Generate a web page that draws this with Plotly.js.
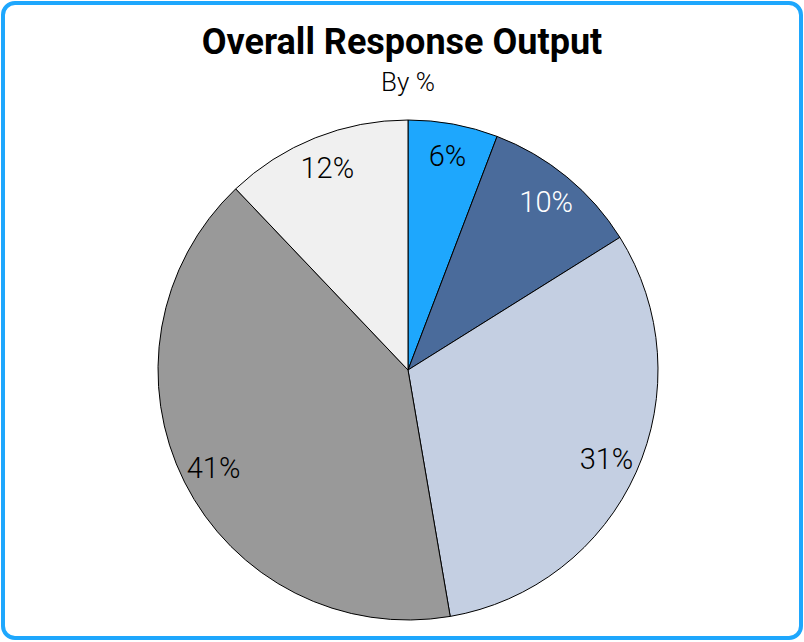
<!DOCTYPE html>
<html>
<head>
<meta charset="utf-8">
<script src="https://cdn.plot.ly/plotly-3.0.1.min.js"></script>
<style>
  html, body { margin: 0; padding: 0; background: #fff; }
  #wrap { position: relative; width: 804px; height: 642px; }
  #chart { width: 804px; height: 642px; }
  #frame { position: absolute; left: 1px; top: 1px; width: 802px; height: 639px; box-sizing: border-box;
           border: 4px solid #1ea7fd; border-radius: 14px; pointer-events: none; }
</style>
</head>
<body>
<div id="wrap">
  <div id="chart"></div>
  <div id="frame"></div>
</div>
<script>
const categories = ["A", "B", "C", "D", "E"];
const values = [5.8, 10.3, 31.2, 40.6, 12.1];
const sliceColors = ["#1ea7fd", "#4a6b9b", "#c4cfe2", "#999999", "#f0f0f0"];
const textColors = ["#000000", "#ffffff", "#000000", "#000000", "#000000"];
const titleText = "Overall Response Output";
const subtitleText = "By %";

const pieTrace = {
  type: "pie",
  labels: categories,
  values: values,
  sort: false,
  direction: "clockwise",
  rotation: 0,
  marker: { colors: sliceColors, line: { color: "#000000", width: 1 } },
  textinfo: "none",
  hoverinfo: "label+percent",
  showlegend: false
};

// transparent ring carrying the percentage labels near the rim
const labelTrace = {
  type: "pie",
  labels: categories,
  values: values,
  sort: false,
  direction: "clockwise",
  rotation: 0,
  hole: 0.74,
  marker: { colors: sliceColors.map(() => "rgba(0,0,0,0)"), line: { width: 0 } },
  texttemplate: "%{percent:.0%}",
  textposition: "inside",
  insidetextorientation: "horizontal",
  insidetextfont: { family: "Roboto, sans-serif", size: 29, weight: 300, color: textColors },
  hoverinfo: "skip",
  showlegend: false
};

const layout = {
  width: 804,
  height: 642,
  paper_bgcolor: "#ffffff",
  margin: { l: 158, r: 146, t: 120, b: 22 },
  showlegend: false,
  title: {
    text: "<b>" + titleText + "</b>",
    font: { family: "Roboto, sans-serif", size: 36, weight: 900, color: "#000000" },
    x: 0.5, xanchor: "center",
    y: 0.935, yanchor: "middle"
  },
  annotations: [{
    text: subtitleText,
    xref: "paper", yref: "paper",
    x: 0.5, y: 1.076, xanchor: "center", yanchor: "middle",
    showarrow: false,
    font: { family: "Roboto, sans-serif", size: 26, weight: 300, color: "#000000" }
  }]
};

Plotly.newPlot("chart", [pieTrace, labelTrace], layout, { displayModeBar: false, staticPlot: true });
</script>
</body>
</html>
